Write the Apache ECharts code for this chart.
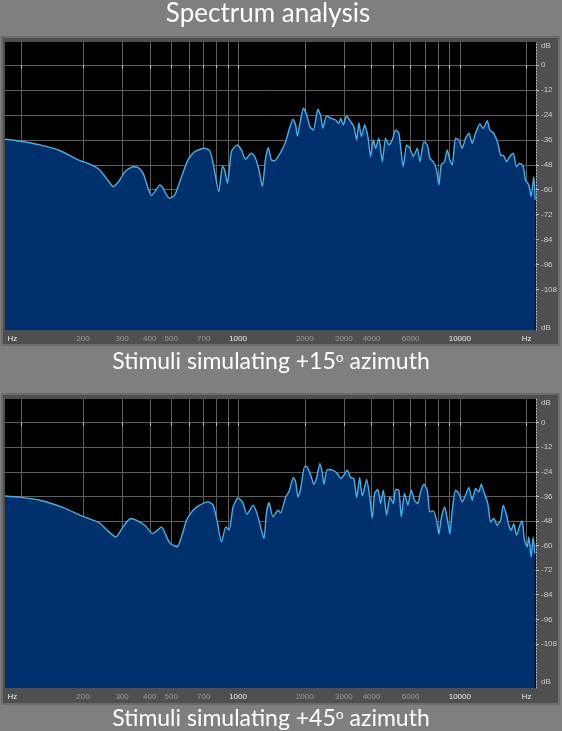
<!DOCTYPE html>
<html>
<head>
<meta charset="utf-8">
<script src="https://cdn.jsdelivr.net/npm/echarts@6/dist/echarts.min.js"></script>
<style>
html, body { margin: 0; padding: 0; background: #7f7f7f; }
#main { width: 562px; height: 731px; }
</style>
</head>
<body>
<div id="main"></div>
<script>
var
// ---------------------------------------------------------------------------
/* spectrum +15 azimuth : frequency (Hz) / level (dB) */
hz15 = [89, 103, 128, 157, 190, 215, 238, 255, 274, 293, 309, 337, 354, 373, 393, 407, 422, 444, 460, 476,
	492, 519, 556, 595, 638, 708, 746, 772, 819, 851, 871, 896, 934, 990, 1036, 1080, 1149, 1189, 1243, 1288,
	1328, 1370, 1414, 1463, 1557, 1640, 1697, 1769, 1819, 1851, 1902, 1970, 2039, 2110, 2186, 2293, 2358, 2415, 2502, 2616,
	2755, 2851, 2902, 2984, 3088, 3219, 3331, 3426, 3508, 3597, 3722, 3851, 3960, 4073, 4172, 4316, 4472, 4627, 4788, 4960,
	5133, 5311, 5559, 5753, 5953, 6168, 6429, 6605, 6885, 7133, 7328, 7591, 7852, 8042, 8245, 8532, 8774, 9016, 9243, 9563,
	9897, 10250, 10610, 10980, 11370, 11770, 12310, 12750, 13290, 13650, 14230, 14840, 15260, 15790, 16240, 16800, 17400, 18010, 18640, 19310,
	19770, 20460, 20970, 21540, 21860],
db15 = [-35.7, -36.5, -38.4, -41.1, -45.6, -47.7, -50.5, -54.5, -58.5, -55.3, -51.3, -48.9, -49.2, -52, -59.3, -62.8, -60.9, -57.7, -59.3, -62.5,
	-64.1, -62.5, -53.7, -45.6, -41.6, -40, -41.1, -47.2, -60.9, -48.5, -50.5, -56.9, -41.6, -38.4, -40.8, -45.3, -42.4, -44, -50.5, -58.5,
	-45.6, -39.7, -45.6, -46, -42, -36.8, -31.2, -26, -28.8, -34.1, -28, -20.7, -24, -29.6, -31.2, -21.2, -24.4, -30.4, -24.4, -25.5,
	-26.4, -28, -25.5, -28.8, -24.4, -27.2, -29.6, -36, -27.7, -34.4, -28.8, -34.4, -44, -36, -40, -35.2, -46.5, -35.2, -38.4, -36,
	-31.2, -32.8, -48.9, -38.4, -40, -44, -40, -46.5, -36.8, -38.4, -44.8, -46.5, -50.5, -57.7, -48, -46.5, -40.8, -45.6, -48, -35.2,
	-36, -40, -35.2, -32.8, -37.6, -32.8, -28.3, -30.4, -26.7, -31.2, -32.8, -37.6, -43.2, -43.7, -46.5, -44, -42.4, -48.9, -47.2, -48.9,
	-55.3, -57.7, -63.3, -53.7, -64.9],

/* spectrum +45 azimuth */
hz45 = [89, 103, 128, 163, 197, 238, 255, 281, 303, 328, 349, 380, 412, 429, 452, 468, 492, 531, 556, 586,
	627, 672, 733, 772, 804, 842, 881, 911, 950, 1000, 1047, 1098, 1169, 1218, 1275, 1310, 1342, 1379, 1438, 1514,
	1557, 1640, 1697, 1777, 1819, 1863, 1916, 1998, 2054, 2126, 2200, 2262, 2341, 2400, 2440, 2528, 2662, 2804, 2902, 3002,
	3111, 3219, 3331, 3426, 3534, 3635, 3800, 3932, 4031, 4129, 4272, 4393, 4519, 4676, 4838, 5012, 5133, 5311, 5445, 5634,
	5831, 6040, 6250, 6469, 6653, 6885, 7133, 7328, 7591, 7852, 8042, 8245, 8532, 8774, 9016, 9243, 9563, 9897, 10250, 10610,
	10980, 11370, 11770, 12180, 12490, 12930, 13370, 13750, 14230, 14740, 15260, 15690, 16240, 16620, 17040, 17510, 18010, 18640, 19110, 19560,
	20120, 20460, 20970, 21410, 21770],
db45 = [-35.8, -36.4, -37.9, -41.5, -45.5, -49, -52.2, -55.8, -50.9, -46.8, -47.7, -50.1, -54.2, -52.9, -50.9, -53.9, -58.7, -60.7, -55.8, -47.7,
	-42.8, -40.3, -38.7, -40.3, -47.7, -58.3, -50.9, -52.5, -41.2, -36.8, -38.7, -44.7, -40.3, -44.4, -52.5, -56.6, -44.4, -39, -46, -42.8,
	-44, -36.3, -33.8, -26.8, -28.9, -36.3, -32.2, -21.3, -21.9, -25.7, -30.1, -26.8, -19.9, -24.8, -30.1, -22.9, -23.2, -24.8, -27.3, -25.7,
	-23.2, -26.8, -27.3, -36.6, -26.8, -35.9, -27.8, -37, -46.8, -34.6, -32.6, -39.5, -33, -45.2, -36.3, -39.5, -32.6, -33, -46, -34.6,
	-40.3, -33, -37.9, -39.5, -33.8, -30.1, -33, -43.6, -43.1, -47.7, -54.5, -46.8, -41.2, -46.8, -54.5, -42.8, -33, -34.6, -38.7, -35.4,
	-31.7, -37.9, -32.2, -33.8, -30.1, -34.9, -39.5, -48.5, -46.8, -50.1, -47.7, -40.3, -45.2, -50.1, -52.5, -49.3, -55, -50.1, -48, -57.4,
	-60.7, -55.8, -65.6, -55.8, -63.9],

/* axes */
gridHz = [105, 200, 300, 400, 500, 600, 700, 800, 900, 1000, 2000, 3000, 4000, 5000, 6000, 7000, 8000, 9000, 10000, 20000],
labelHz = [96, 200, 300, 400, 500, 700, 1000, 2000, 3000, 4000, 6000, 10000, 20000],
labelText = ['Hz', '200', '300', '400', '500', '700', '1000', '2000', '3000', '4000', '6000', '10000', 'Hz'],
dbTicks = [0, -12, -24, -36, -48, -60, -72, -84, -96, -108],
dbLabelVals = [9.5, 0, -12, -24, -36, -48, -60, -72, -84, -96, -108, -126.5],
dbLabelText = ['dB', '0', '-12', '-24', '-36', '-48', '-60', '-72', '-84', '-96', '-108', 'dB'],

// ---------------------------------------------------------------------------
log10 = function(v) { return Math.log10(v); },

pairs = function(hz, db) {
	return hz.map(function(f, i) { return [log10(f), db[i]]; });
},

xAxisOf = function(idx) {
	var lv = labelHz.map(log10);
	return {
		type: 'value',
		gridIndex: idx,
		min: log10(89),
		max: log10(22050),
		axisLine: { show: false },
		axisTick: {
			show: true,
			customValues: gridHz.map(log10),
			length: 3,
			lineStyle: { color: '#d0d0d0', width: 1 }
		},
		splitLine: { show: true, lineStyle: { color: '#5e5e5e', width: 1 } },
		axisLabel: {
			customValues: lv,
			margin: 5,
			formatter: function(v) {
				for (var i = 0; i < lv.length; i++) {
					if (Math.abs(lv[i] - v) < 1e-6) {
						var t = labelText[i];
						return (t == 'Hz' || t == '1000' || t == '10000') ? '{w|' + t + '}' : '{g|' + t + '}';
					}
				}
				return '';
			},
			rich: {
				w: { color: '#ececec', fontSize: 8, fontFamily: 'Liberation Sans' },
				g: { color: '#9a9a9a', fontSize: 8, fontFamily: 'Liberation Sans' }
			}
		}
	};
},

yAxisOf = function(idx, lo, hi) {
	return {
		type: 'value',
		gridIndex: idx,
		position: 'right',
		min: lo,
		max: hi,
		axisLine: { show: true, lineStyle: { color: '#bcbcbc', width: 1, type: [1, 2] } },
		axisTick: { show: true, customValues: dbTicks, length: 3, lineStyle: { color: '#bcbcbc' } },
		splitLine: { show: true, lineStyle: { color: '#5e5e5e', width: 1 } },
		axisLabel: {
			customValues: dbLabelVals,
			margin: 5,
			color: '#cccccc',
			fontSize: 8,
			fontFamily: 'Liberation Sans',
			formatter: function(v) {
				for (var i = 0; i < dbLabelVals.length; i++) {
					if (Math.abs(dbLabelVals[i] - v) < 1e-6) return dbLabelText[i];
				}
				return '';
			}
		}
	};
},

seriesOf = function(name, idx, data) {
	return {
		name: name,
		type: 'line',
		xAxisIndex: idx,
		yAxisIndex: idx,
		data: data,
		showSymbol: false,
		smooth: 0.2,
		lineStyle: { color: '#40b2ef', width: 1.4 },
		areaStyle: { color: '#00306b', opacity: 1, origin: 'start' }
	};
},

titleOf = function(txt, x, y, size) {
	return {
		type: 'text',
		z: 100,
		x: x,
		y: y,
		style: {
			text: txt,
			fill: '#ffffff',
			fontSize: size,
			fontFamily: 'Lato',
			align: 'center',
			verticalAlign: 'middle',
			rich: {
				s: { fill: '#ffffff', fontSize: Math.round(size * 0.6), fontFamily: 'Lato', verticalAlign: 'top', lineHeight: size }
			}
		}
	};
},

option = {
	backgroundColor: '#7f7f7f',
	animation: false,
	grid: [
		{ left: 5, top: 42, width: 531, height: 288, show: true, backgroundColor: '#000', borderWidth: 0 },
		{ left: 5, top: 399, width: 531, height: 289, show: true, backgroundColor: '#000', borderWidth: 0 }
	],
	xAxis: [xAxisOf(0), xAxisOf(1)],
	yAxis: [yAxisOf(0, -127.6, 11.2), yAxisOf(1, -129.5, 11.5)],
	series: [
		seriesOf('+15', 0, pairs(hz15, db15)),
		seriesOf('+45', 1, pairs(hz45, db45))
	],
	graphic: [
		{ type: 'rect', z: -10, shape: { x: 2, y: 37, width: 557, height: 308 }, style: { fill: '#4f4f4f', stroke: '#6c6c6c', lineWidth: 2 } },
		{ type: 'rect', z: -10, shape: { x: 2, y: 394, width: 557, height: 310 }, style: { fill: '#4f4f4f', stroke: '#6c6c6c', lineWidth: 2 } },
		titleOf('Spectrum analysis', 268, 14, 26),
		titleOf('Stimuli simulating +15{s|o} azimuth', 271, 362, 23),
		titleOf('Stimuli simulating +45{s|o} azimuth', 271, 719, 23)
	]
};

var chart = echarts.init(document.getElementById('main'));
chart.setOption(option);
</script>
</body>
</html>
